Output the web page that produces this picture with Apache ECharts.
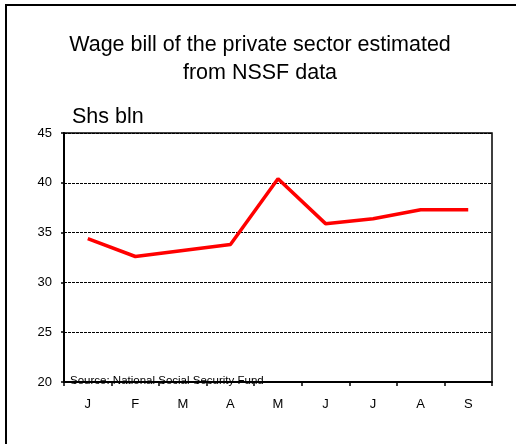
<!DOCTYPE html>
<html>
<head>
<meta charset="utf-8">
<script src="https://cdn.jsdelivr.net/npm/echarts@6/dist/echarts.min.js"></script>
<style>html,body{margin:0;padding:0;background:#fff;}#c{width:516px;height:444px;}</style>
</head>
<body>
<div id="c"></div>
<script>
const categories = ['J','F','M','A','M','J','J','A','S'];
const wageBill = [34.4, 32.6, 33.2, 33.8, 40.4, 35.9, 36.4, 37.3, 37.3];
const yTicks = [20, 25, 30, 35, 40, 45];

const chart = echarts.init(document.getElementById('c'));
const F = 'Liberation Sans, Arial, sans-serif';
chart.setOption({
  animation: false,
  backgroundColor: '#fff',
  title: {
    text: 'Wage bill of the private sector estimated\nfrom NSSF data',
    left: 255, top: 26, textAlign: 'center',
    textStyle: { fontFamily: F, fontSize: 21.5, fontWeight: 'normal', color: '#000', lineHeight: 28 }
  },
  graphic: [
    { type: 'line', shape: { x1: 5, y1: 5, x2: 516, y2: 5 }, style: { stroke: '#000', lineWidth: 2 } },
    { type: 'line', shape: { x1: 6, y1: 4, x2: 6, y2: 444 }, style: { stroke: '#000', lineWidth: 2 } },
    { type: 'text', left: 72, top: 106, style: { text: 'Shs bln', font: '21.5px ' + F, fill: '#000' } },
    { type: 'text', left: 70, top: 375, z: 100, style: { text: 'Source: National Social Security Fund', font: '11.5px ' + F, fill: '#000' } }
  ],
  grid: { left: 64, top: 133, right: 24, bottom: 62, show: true, borderColor: '#000', borderWidth: 1.5 },
  xAxis: {
    type: 'category', data: categories, boundaryGap: true,
    axisLine: { lineStyle: { color: '#000', width: 2 } },
    axisTick: { show: true, length: 4, inside: false, lineStyle: { color: '#000', width: 1.5 } },
    axisLabel: { fontFamily: F, fontSize: 13, color: '#000', margin: 16 },
    splitLine: { show: false }
  },
  yAxis: {
    type: 'value', min: yTicks[0], max: yTicks[yTicks.length - 1], interval: 5,
    axisLine: { show: true, lineStyle: { color: '#000', width: 2 } },
    axisTick: { show: true, length: 3, lineStyle: { color: '#000', width: 1.5 } },
    axisLabel: { fontFamily: F, fontSize: 13, color: '#000', margin: 12 },
    splitLine: { show: true, lineStyle: { color: '#000', type: [3, 1], width: 1 } }
  },
  series: [{
    type: 'line', data: wageBill, showSymbol: false, symbol: 'none',
    lineStyle: { color: '#ff0000', width: 3.5 }, z: 3
  }]
});
</script>
</body>
</html>
